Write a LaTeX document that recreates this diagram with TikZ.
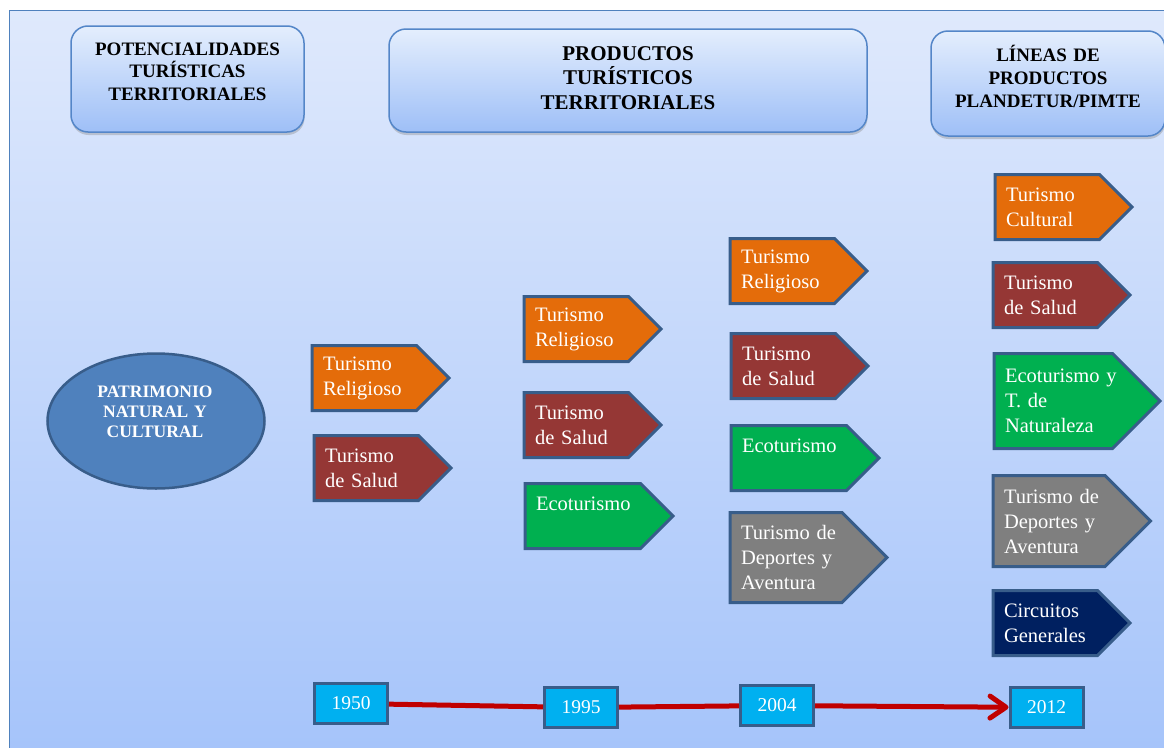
\documentclass[tikz,border=0pt]{standalone}
\usepackage{fontspec}
\setmainfont{Liberation Serif}
\usepackage{xcolor}
\usepackage{tikz}
\usetikzlibrary{shapes.geometric, shapes.symbols, arrows.meta, positioning, shadows}

\definecolor{frameline}{RGB}{79,129,189}
\definecolor{frametop}{RGB}{223,233,252}
\definecolor{framebot}{RGB}{164,195,250}
\definecolor{headline}{RGB}{84,134,200}
\definecolor{headtop}{RGB}{228,238,253}
\definecolor{headbot}{RGB}{158,191,247}
\definecolor{tabline}{RGB}{56,93,138}
\definecolor{taborange}{RGB}{228,108,10}
\definecolor{tabred}{RGB}{149,55,53}
\definecolor{tabgreen}{RGB}{0,176,80}
\definecolor{tabgray}{RGB}{127,127,127}
\definecolor{tabnavy}{RGB}{0,32,96}
\definecolor{ovalfill}{RGB}{79,129,189}
\definecolor{yearfill}{RGB}{0,176,240}
\definecolor{timeline}{RGB}{192,0,0}

\begin{document}
\begin{tikzpicture}[x=1pt, y=-1pt,
  header/.style={draw=headline, line width=1.5pt, rounded corners=17pt, top color=headtop, bottom color=headbot,
    drop shadow={shadow xshift=0.5pt, shadow yshift=-3pt, opacity=0.35}},
  headtext/.style={anchor=base, align=center, inner sep=0pt, text width=225pt},
  tab/.style={signal, signal to=east, signal pointer angle=90, draw=tabline, line width=3pt, text=white,
    align=left, anchor=west, inner xsep=11pt, inner ysep=2pt, font=\fontsize{20.5}{25}\selectfont,
    minimum width=137pt, minimum height=65pt, text width=82.5pt},
  widetab/.style={tab, minimum width=148pt, text width=93.5pt},
  talltab/.style={tab, minimum width=157pt, minimum height=90pt, text width=90pt},
  bigtab/.style={tab, minimum width=166pt, minimum height=95pt, text width=96.5pt},
  oval/.style={ellipse, draw=tabline, line width=2.5pt, fill=ovalfill, minimum width=217pt, minimum height=135pt, inner sep=0pt},
  year/.style={rectangle, draw=tabline, line width=3pt, fill=yearfill, text=white, minimum width=73pt,
    minimum height=40pt, inner sep=0pt, font=\fontsize{19.5}{22}\selectfont},
  redline/.style={timeline, line width=5pt}
]
% Page and frame
\useasboundingbox (0,0) rectangle (1164,747);
\fill[white] (0,0) rectangle (1164,747);
\draw[frameline, line width=1.5pt, top color=frametop, bottom color=framebot] (9.5,10.5) rectangle (1190,770);

% Headers
\node[header, minimum width=233pt, minimum height=106pt] (potbox) at (187.5,79) {};
\node[headtext, font=\bfseries\fontsize{19}{22.5}\selectfont] (pot) at (187.5,55) {POTENCIALIDADES\\TURÍSTICAS\\TERRITORIALES};
\node[header, minimum width=478pt, minimum height=103pt] (prodbox) at (628,80.5) {};
\node[headtext, font=\bfseries\fontsize{21}{24.5}\selectfont] (prod) at (628,60) {PRODUCTOS\\TURÍSTICOS\\TERRITORIALES};
\node[header, minimum width=234pt, minimum height=105pt] (linbox) at (1048,83.5) {};
\node[headtext, font=\bfseries\fontsize{19}{23}\selectfont] (lin) at (1048,61.7) {LÍNEAS DE\\PRODUCTOS\\PLANDETUR/PIMTE};

% Patrimonio
\node[oval] (patr) at (156,421) {};
\node[headtext, text=white, text width=170pt, font=\bfseries\fontsize{17.5}{20}\selectfont] (patrtext) at (155,397) {PATRIMONIO\\NATURAL Y\\CULTURAL};

% 1950
\node[tab, fill=taborange] (relA) at (310.5,378) {Turismo\\Religioso};
\node[tab, fill=tabred] (salA) at (312.5,468) {Turismo\\de Salud};

% 1995
\node[tab, fill=taborange] (relB) at (522.5,329) {Turismo\\Religioso};
\node[tab, fill=tabred] (salB) at (522.5,425) {Turismo\\de Salud};
\node[widetab, fill=tabgreen] (ecoB) at (523.5,516) {Ecoturismo\\\mbox{}};

% 2004
\node[tab, fill=taborange] (relC) at (728.5,271) {Turismo\\Religioso};
\node[tab, fill=tabred] (salC) at (729.5,366) {Turismo\\de Salud};
\node[widetab, fill=tabgreen] (ecoC) at (729.5,458) {Ecoturismo\\\mbox{}};
\node[talltab, fill=tabgray] (depC) at (728.5,557.5) {Turismo~de\\Deportes~y\\Aventura};

% 2012
\node[tab, fill=taborange] (culD) at (993.5,207) {Turismo\\Cultural};
\node[tab, fill=tabred] (salD) at (991.5,295) {Turismo\\de Salud};
\node[bigtab, fill=tabgreen] (ecoD) at (992.5,401) {Ecoturismo~y\\T.~de\\Naturaleza};
\node[talltab, fill=tabgray, minimum height=91pt] (depD) at (991.5,521) {Turismo~de\\Deportes~y\\Aventura};
\node[tab, fill=tabnavy] (cirD) at (991.5,623) {Circuitos\\Generales};

% Timeline
\node[year] (y1950) at (351,703.5) {1950};
\node[year] (y1995) at (581,707.5) {1995};
\node[year] (y2004) at (777,705.5) {2004};
\node[year] (y2012) at (1046.5,707.5) {2012};
\draw[redline] (y1950) -- (y1995);
\draw[redline] (y1995) -- (y2004);
\draw[redline, -{Straight Barb[length=16pt, width=22pt, line cap=round, line join=round]}] (y2004) -- (y2012);
\end{tikzpicture}
\end{document}
